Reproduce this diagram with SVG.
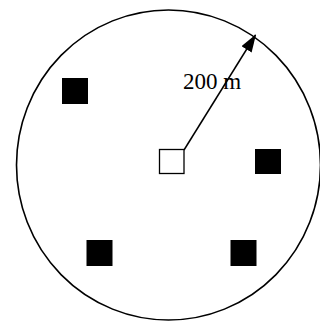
<svg xmlns="http://www.w3.org/2000/svg" width="320" height="322" viewBox="0 0 320 322">
<style>
.site{fill:#000}
.conn{stroke:#000;stroke-width:1.5;fill:none}
.lbl{font-family:"Liberation Serif",serif;font-size:23px;fill:#000}
</style>
<defs>
<marker id="ah" markerWidth="10" markerHeight="10" refX="9" refY="5" orient="auto" markerUnits="userSpaceOnUse" viewBox="0 0 10 10">
<path d="M0,0 L10,5 L0,10 Z" fill="#000"/>
</marker>
<marker id="ah2" viewBox="0 0 18 12" refX="17" refY="6" markerWidth="18" markerHeight="12" orient="auto" markerUnits="userSpaceOnUse">
<path d="M0,0 L18,6 L0,12 Z" fill="#000"/>
</marker>
</defs>
<rect width="320" height="322" fill="#fff"/>
<g id="boundary">
<ellipse cx="168.5" cy="165" rx="152" ry="155" fill="none" stroke="#000" stroke-width="1.6"/>
</g>
<g id="center">
<rect x="159.5" y="149.5" width="24.5" height="24" fill="#fff" stroke="#000" stroke-width="1.3"/>
</g>
<g id="site1"><rect class="site" x="62" y="78" width="26" height="26"/></g>
<g id="site2"><rect class="site" x="255" y="149" width="26" height="25"/></g>
<g id="site3"><rect class="site" x="86.5" y="240" width="26" height="26"/></g>
<g id="site4"><rect class="site" x="230.5" y="240" width="26" height="26"/></g>
<g id="connectors">
<line class="conn" x1="184" y1="150" x2="255.5" y2="35" marker-end="url(#ah2)"/>
</g>
<g id="label">
<text class="lbl" x="183" y="89">200 m</text>
</g>
</svg>
